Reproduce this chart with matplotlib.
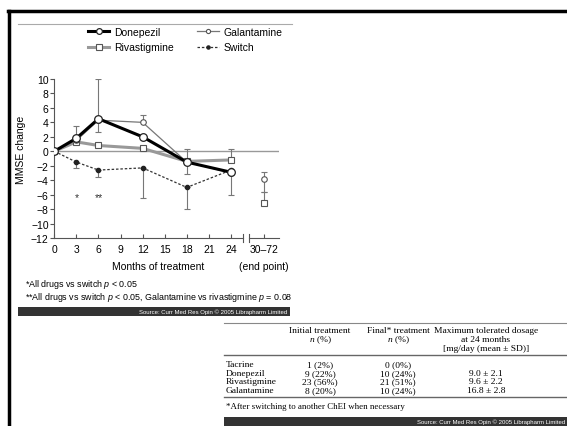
import matplotlib
matplotlib.use("Agg")
from matplotlib import pyplot as plt
from matplotlib.lines import Line2D
from matplotlib.patches import Rectangle

# chart data (MMSE change vs months)
months = [0, 3, 6, 12, 18, 24]
end_x = 28.5

donepezil = [0, 1.8, 4.5, 2.0, -1.5, -2.9]
donepezil_up = [0, 1.7, 5.5, 0, 0, 0]
donepezil_dn = [0, 0, 1.8, 0, 0, 0]

galantamine = [0, 1.5, 4.3, 4.0, -1.5, -3.0]
galantamine_up = [0, 0, 0, 1.0, 0, 0]
galantamine_dn = [0, 0, 0, 0, 1.7, 3.0]
galantamine_end = -3.9
galantamine_end_err = [1.0, 1.8]

rivastigmine = [0, 1.3, 0.8, 0.4, -1.4, -1.2]
rivastigmine_up = [0, 0, 0, 0, 1.7, 1.5]
rivastigmine_end = -7.2
rivastigmine_end_up = 1.5

switch = [0, -1.5, -2.6, -2.3, -5.0, -2.6]
switch_dn = [0, 0.8, 1.0, 4.1, 3.0, 0]

xticks = [0, 3, 6, 9, 12, 15, 18, 21, 24, end_x]
xtick_labels = ["0", "3", "6", "9", "12", "15", "18", "21", "24", "30\u201372"]
yticks = list(range(-12, 11, 2))

# table data
row_names = ["Tacrine", "Donepezil", "Rivastigmine", "Galantamine"]
initial = ["1 (2%)", "9 (22%)", "23 (56%)", "8 (20%)"]
final = ["0 (0%)", "10 (24%)", "21 (51%)", "10 (24%)"]
max_dose = ["", "9.0 \u00b1 2.1", "9.6 \u00b1 2.2", "16.8 \u00b1 2.8"]

W, H = 567, 427


def fx(x):
    return x / W


def fy(y):
    return 1 - y / H


plt.rcParams["font.family"] = ["Liberation Sans", "DejaVu Sans"]
plt.rcParams["mathtext.fontset"] = "custom"
plt.rcParams["mathtext.it"] = "Liberation Serif:italic"
plt.rcParams["mathtext.rm"] = "Liberation Serif"
plt.rcParams["mathtext.sf"] = "Liberation Sans:italic"

fig = plt.figure(figsize=(5.67, 4.27), dpi=100)
fig.patch.set_facecolor("white")

# slide frame
fig.add_artist(Line2D([fx(8), fx(567)], [fy(12), fy(12)], color="black", lw=2.5))
fig.add_artist(Line2D([fx(9), fx(9)], [fy(12), fy(427)], color="black", lw=2.5))
fig.add_artist(Line2D([fx(18), fx(292)], [fy(25), fy(25)], color="#aaaaaa", lw=0.8))

ax = fig.add_axes([fx(54.3), fy(239), 224.5 / W, 159 / H])
ax.set_xlim(0, 30.5)
ax.set_ylim(-12, 10)
for s in ["top", "right", "bottom"]:
    ax.spines[s].set_visible(False)
ax.spines["left"].set_color("#555555")
ax.spines["left"].set_linewidth(0.8)

# broken x axis
ax.plot([0, 25.7], [-12, -12], color="#555555", lw=0.8, clip_on=False)
ax.plot([26.4, 30.5], [-12, -12], color="#555555", lw=0.8, clip_on=False)
for bx in [25.7, 26.4]:
    ax.plot([bx, bx], [-12.5, -11.5], color="#555555", lw=0.8, clip_on=False)

ax.axhline(0, color="#999999", lw=1.0, zorder=1)

ax.set_xticks(xticks)
ax.set_xticklabels(xtick_labels)
ax.set_yticks(yticks)
ax.set_yticklabels([str(v).replace("-", "\u2212") for v in yticks])
ax.tick_params(axis="x", direction="in", length=3, width=0.8, color="#555555",
               labelsize=7.5, pad=4)
ax.tick_params(axis="y", direction="out", length=3, width=0.8, color="#555555",
               labelsize=7.5, pad=1)
ax.set_ylabel("MMSE change", fontsize=7.5)
ax.yaxis.set_label_coords(-0.125, 0.56)

ebar = dict(ecolor="#777777", elinewidth=0.8, capsize=2, capthick=0.8)

ax.errorbar(months, switch, yerr=[switch_dn, [0] * 6], fmt="none", zorder=2, **ebar)
ax.errorbar(months, donepezil, yerr=[donepezil_dn, donepezil_up], fmt="none", zorder=2, **ebar)
ax.errorbar(months, galantamine, yerr=[galantamine_dn, galantamine_up], fmt="none", zorder=2, **ebar)
ax.errorbar(months, rivastigmine, yerr=[[0] * 6, rivastigmine_up], fmt="none", zorder=2, **ebar)
ax.errorbar([end_x], [galantamine_end], yerr=[[galantamine_end_err[1]], [galantamine_end_err[0]]],
            fmt="none", zorder=2, **ebar)
ax.errorbar([end_x], [rivastigmine_end], yerr=[[0], [rivastigmine_end_up]],
            fmt="none", zorder=2, **ebar)

l_sw, = ax.plot(months, switch, color="#333333", lw=0.9, ls=(0, (2, 1.5)),
                marker="o", ms=3, mfc="#222222", mec="#222222", zorder=3)
l_ri, = ax.plot(months, rivastigmine, color="#999999", lw=2.2, marker="s", ms=5,
                mfc="white", mec="#555555", mew=0.8, zorder=4)
l_ga, = ax.plot(months, galantamine, color="#777777", lw=0.9, marker="o", ms=4,
                mfc="white", mec="#555555", mew=0.8, zorder=5)
l_do, = ax.plot(months, donepezil, color="black", lw=2.2, marker="o", ms=5.5,
                mfc="white", mec="#222222", mew=0.9, zorder=6)
ax.plot([end_x], [galantamine_end], ls="none", marker="o", ms=4, mfc="white",
        mec="#555555", mew=0.8, zorder=5)
ax.plot([end_x], [rivastigmine_end], ls="none", marker="s", ms=5, mfc="white",
        mec="#555555", mew=0.8, zorder=5)

ax.text(3, -6.3, "*", ha="center", va="center", fontsize=7.5, color="#333333")
ax.text(6, -6.3, "**", ha="center", va="center", fontsize=7.5, color="#333333")

# legend fills column by column: Donepezil/Rivastigmine, then Galantamine/Switch
fig.legend([l_do, l_ri, l_ga, l_sw], ["Donepezil", "Rivastigmine", "Galantamine", "Switch"],
           ncol=2, frameon=False, fontsize=7.5, loc="center",
           bbox_to_anchor=(fx(185), fy(40.5)), handlelength=2.1, columnspacing=2.3,
           labelspacing=0.55, handletextpad=0.4, markerscale=0.75)

fig.text(fx(158), fy(267), "Months of treatment", ha="center", va="center", fontsize=7.5)
fig.text(fx(264), fy(267), "(end point)", ha="center", va="center", fontsize=7.5)

fig.text(fx(25), fy(285), r"*All drugs vs switch $\mathsf{p}$ < 0.05", fontsize=6.4, va="center")
fig.text(fx(25), fy(297),
         r"**All drugs vs switch $\mathsf{p}$ < 0.05, Galantamine vs rivastigmine $\mathsf{p}$ = 0.08",
         fontsize=6.4, va="center")

# source bar under the chart
fig.add_artist(Rectangle((fx(18), fy(317)), fx(290) - fx(18), 9 / H, color="#333333", lw=0))
fig.text(fx(287), fy(312.5), "Source: Curr Med Res Opin \u00a9 2005 Librapharm Limited",
         ha="right", va="center", fontsize=4.3, color="white")

# table
serif = ["Liberation Serif", "DejaVu Serif"]
tfs = 6.8
fig.add_artist(Line2D([fx(224), fx(567)], [fy(324), fy(324)], color="#888888", lw=0.8))
fig.add_artist(Line2D([fx(224), fx(567)], [fy(356), fy(356)], color="#666666", lw=1.0))
fig.add_artist(Line2D([fx(224), fx(567)], [fy(398), fy(398)], color="#666666", lw=1.0))
col_x = [320, 398, 486]
fig.text(fx(col_x[0]), fy(331), "Initial treatment", ha="center", va="center", fontsize=tfs, family=serif)
fig.text(fx(col_x[0]), fy(340), "$n$ (%)", ha="center", va="center", fontsize=tfs, family=serif)
fig.text(fx(col_x[1]), fy(331), "Final* treatment", ha="center", va="center", fontsize=tfs, family=serif)
fig.text(fx(col_x[1]), fy(340), "$n$ (%)", ha="center", va="center", fontsize=tfs, family=serif)
fig.text(fx(col_x[2]), fy(331), "Maximum tolerated dosage", ha="center", va="center", fontsize=tfs, family=serif)
fig.text(fx(col_x[2]), fy(340), "at 24 months", ha="center", va="center", fontsize=tfs, family=serif)
fig.text(fx(col_x[2]), fy(349), "[mg/day (mean \u00b1 SD)]", ha="center", va="center", fontsize=tfs, family=serif)

for i, name in enumerate(row_names):
    yy = fy(365 + i * 8.7)
    fig.text(fx(226), yy, name, ha="left", va="center", fontsize=tfs, family=serif)
    fig.text(fx(col_x[0]), yy, initial[i], ha="center", va="center", fontsize=tfs, family=serif)
    fig.text(fx(col_x[1]), yy, final[i], ha="center", va="center", fontsize=tfs, family=serif)
    fig.text(fx(col_x[2]), yy, max_dose[i], ha="center", va="center", fontsize=tfs, family=serif)

fig.text(fx(226), fy(407), "*After switching to another ChEI when necessary", ha="left", va="center",
         fontsize=tfs - 0.4, family=serif)
fig.add_artist(Rectangle((fx(224), 0), fx(567) - fx(224), 9 / H, color="#333333", lw=0))
fig.text(fx(565), fy(422.5), "Source: Curr Med Res Opin \u00a9 2005 Librapharm Limited",
         ha="right", va="center", fontsize=4.3, color="white")

fig.savefig("out.png", dpi=100)
